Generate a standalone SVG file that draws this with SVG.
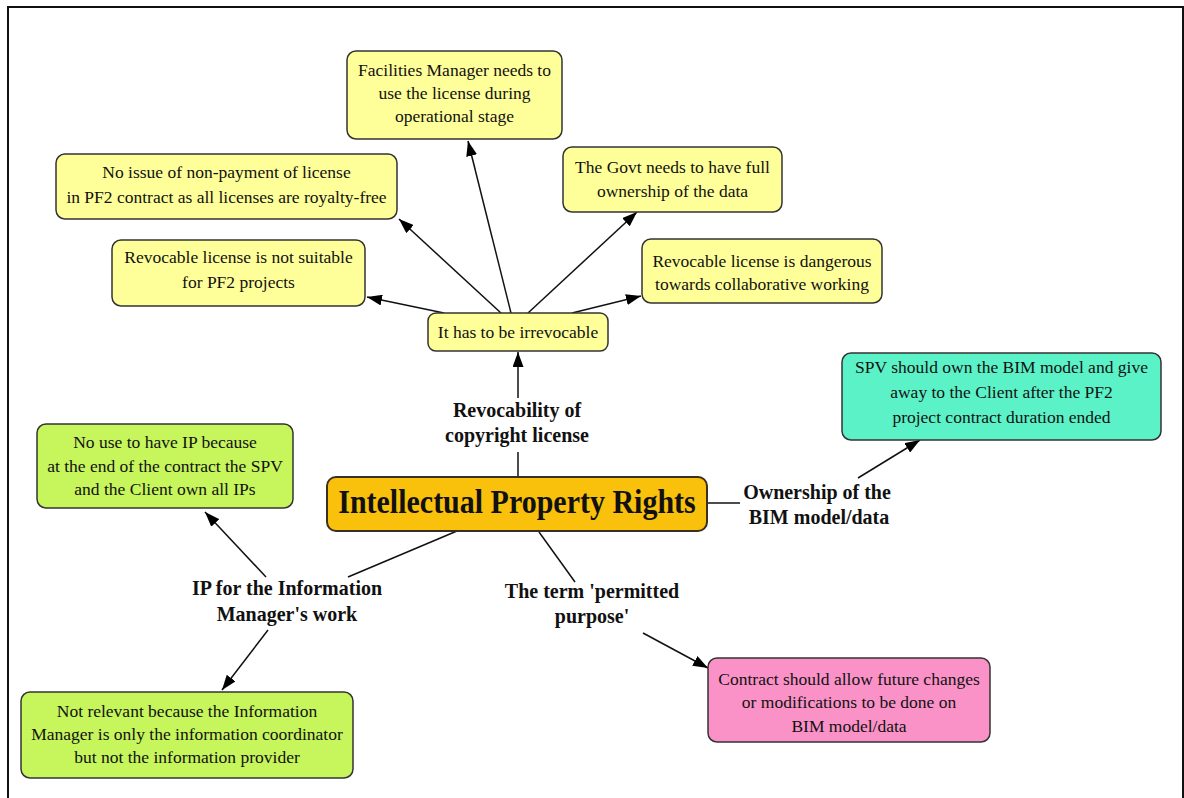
<svg xmlns="http://www.w3.org/2000/svg" width="1184" height="798" viewBox="0 0 1184 798">
  <style>
    .box { stroke: #333333; stroke-width: 1.5; }
    .yellow { fill: #FFFF99; }
    .core { fill: #F9C00C; stroke: #3a3020; stroke-width: 2; }
    .teal { fill: #5CF2C8; }
    .lime { fill: #C6F55C; }
    .pink { fill: #FA92C8; }
    .t { font-family: "Liberation Serif", "Times New Roman", serif; font-size: 17.5px; fill: #111111; text-anchor: middle; }
    .lbl { font-family: "Liberation Serif", "Times New Roman", serif; font-size: 20px; font-weight: bold; fill: #111111; text-anchor: middle; }
    .title { font-family: "Liberation Serif", "Times New Roman", serif; font-size: 30px; font-weight: bold; fill: #111111; text-anchor: middle; }
    .edge { stroke: #111111; stroke-width: 1.5; fill: none; }
  </style>
  <defs>
    <marker id="arrow" viewBox="0 0 15 11" refX="15" refY="5.5" markerWidth="15" markerHeight="11" markerUnits="userSpaceOnUse" orient="auto">
      <path d="M0,0 L15,5.5 L0,11 Z" fill="#000000"/>
    </marker>
  </defs>

  <rect width="1184" height="798" fill="#ffffff"/>
  <!-- page frame -->
  <rect x="8" y="7" width="1175" height="820" fill="none" stroke="#111111" stroke-width="2"/>

  <g id="connectors">
    <!-- revocability branch -->
    <line class="edge" x1="518" y1="477" x2="518" y2="452"/>
    <line class="edge" x1="518" y1="398" x2="518" y2="352" marker-end="url(#arrow)"/>
    <line class="edge" x1="511" y1="313" x2="468" y2="141" marker-end="url(#arrow)"/>
    <line class="edge" x1="501" y1="313" x2="399" y2="219" marker-end="url(#arrow)"/>
    <line class="edge" x1="444" y1="313" x2="367" y2="297" marker-end="url(#arrow)"/>
    <line class="edge" x1="528" y1="313" x2="637" y2="212" marker-end="url(#arrow)"/>
    <line class="edge" x1="572" y1="313" x2="641" y2="296" marker-end="url(#arrow)"/>
    <!-- ownership branch -->
    <line class="edge" x1="707" y1="503" x2="740" y2="503"/>
    <line class="edge" x1="858" y1="478" x2="920" y2="440" marker-end="url(#arrow)"/>
    <!-- information manager branch -->
    <line class="edge" x1="457" y1="531" x2="348" y2="577"/>
    <line class="edge" x1="266" y1="577" x2="205" y2="512" marker-end="url(#arrow)"/>
    <line class="edge" x1="268" y1="630" x2="222" y2="690" marker-end="url(#arrow)"/>
    <!-- permitted purpose branch -->
    <line class="edge" x1="539" y1="532" x2="575" y2="582"/>
    <line class="edge" x1="643" y1="633" x2="708" y2="668" marker-end="url(#arrow)"/>
  </g>

  <!-- branch labels, drawn slightly tall -->
  <g id="labels">
    <text class="lbl" transform="translate(517,417) scale(1,1.1)">Revocability of</text>
    <text class="lbl" transform="translate(517,442) scale(1,1.1)">copyright license</text>
    <text class="lbl" transform="translate(817,499) scale(1,1.1)">Ownership of the</text>
    <text class="lbl" transform="translate(819,524) scale(1,1.1)">BIM model/data</text>
    <text class="lbl" transform="translate(287,595) scale(1,1.1)">IP for the Information</text>
    <text class="lbl" transform="translate(287,621) scale(1,1.1)">Manager's work</text>
    <text class="lbl" transform="translate(592,598) scale(1,1.1)">The term 'permitted</text>
    <text class="lbl" transform="translate(592,623) scale(1,1.1)">purpose'</text>
  </g>

  <g id="node-ipr">
    <rect class="core" x="327" y="477" width="380" height="54" rx="9"/>
    <text class="title" transform="translate(517,513) scale(1,1.15)">Intellectual Property Rights</text>
  </g>

  <g id="node-irrevocable">
    <rect class="box yellow" x="428" y="313" width="180" height="38" rx="8"/>
    <text class="t" x="518" y="338">It has to be irrevocable</text>
  </g>

  <g id="node-facilities">
    <rect class="box yellow" x="347" y="51" width="215" height="88" rx="9"/>
    <text class="t" x="454.5" y="76">Facilities Manager needs to</text>
    <text class="t" x="454.5" y="99">use the license during</text>
    <text class="t" x="454.5" y="122">operational stage</text>
  </g>

  <g id="node-royalty">
    <rect class="box yellow" x="56" y="154" width="341" height="65" rx="9"/>
    <text class="t" x="226.5" y="178">No issue of non-payment of license</text>
    <text class="t" x="226.5" y="203">in PF2 contract as all licenses are royalty-free</text>
  </g>

  <g id="node-not-suitable">
    <rect class="box yellow" x="112" y="240" width="253" height="66" rx="9"/>
    <text class="t" x="238.5" y="263">Revocable license is not suitable</text>
    <text class="t" x="238.5" y="288">for PF2 projects</text>
  </g>

  <g id="node-govt">
    <rect class="box yellow" x="563" y="147" width="219" height="65" rx="9"/>
    <text class="t" x="672.5" y="173">The Govt needs to have full</text>
    <text class="t" x="672.5" y="197">ownership of the data</text>
  </g>

  <g id="node-dangerous">
    <rect class="box yellow" x="642" y="239" width="240" height="64" rx="9"/>
    <text class="t" x="762" y="267">Revocable license is dangerous</text>
    <text class="t" x="762" y="290">towards collaborative working</text>
  </g>

  <g id="node-spv">
    <rect class="box teal" x="842" y="353" width="319" height="87" rx="9"/>
    <text class="t" x="1001.5" y="373">SPV should own the BIM model and give</text>
    <text class="t" x="1001.5" y="398">away to the Client after the PF2</text>
    <text class="t" x="1001.5" y="423">project contract duration ended</text>
  </g>

  <g id="node-no-use">
    <rect class="box lime" x="37" y="424" width="256" height="84" rx="9"/>
    <text class="t" x="165" y="448">No use to have IP because</text>
    <text class="t" x="165" y="472">at the end of the contract the SPV</text>
    <text class="t" x="165" y="495">and the Client own all IPs</text>
  </g>

  <g id="node-not-relevant">
    <rect class="box lime" x="21" y="692" width="332" height="86" rx="9"/>
    <text class="t" x="187" y="717">Not relevant because the Information</text>
    <text class="t" x="187" y="740">Manager is only the information coordinator</text>
    <text class="t" x="187" y="763">but not the information provider</text>
  </g>

  <g id="node-contract">
    <rect class="box pink" x="708" y="658" width="282" height="84" rx="9"/>
    <text class="t" x="849" y="685">Contract should allow future changes</text>
    <text class="t" x="849" y="708">or modifications to be done on</text>
    <text class="t" x="849" y="732">BIM model/data</text>
  </g>
</svg>
